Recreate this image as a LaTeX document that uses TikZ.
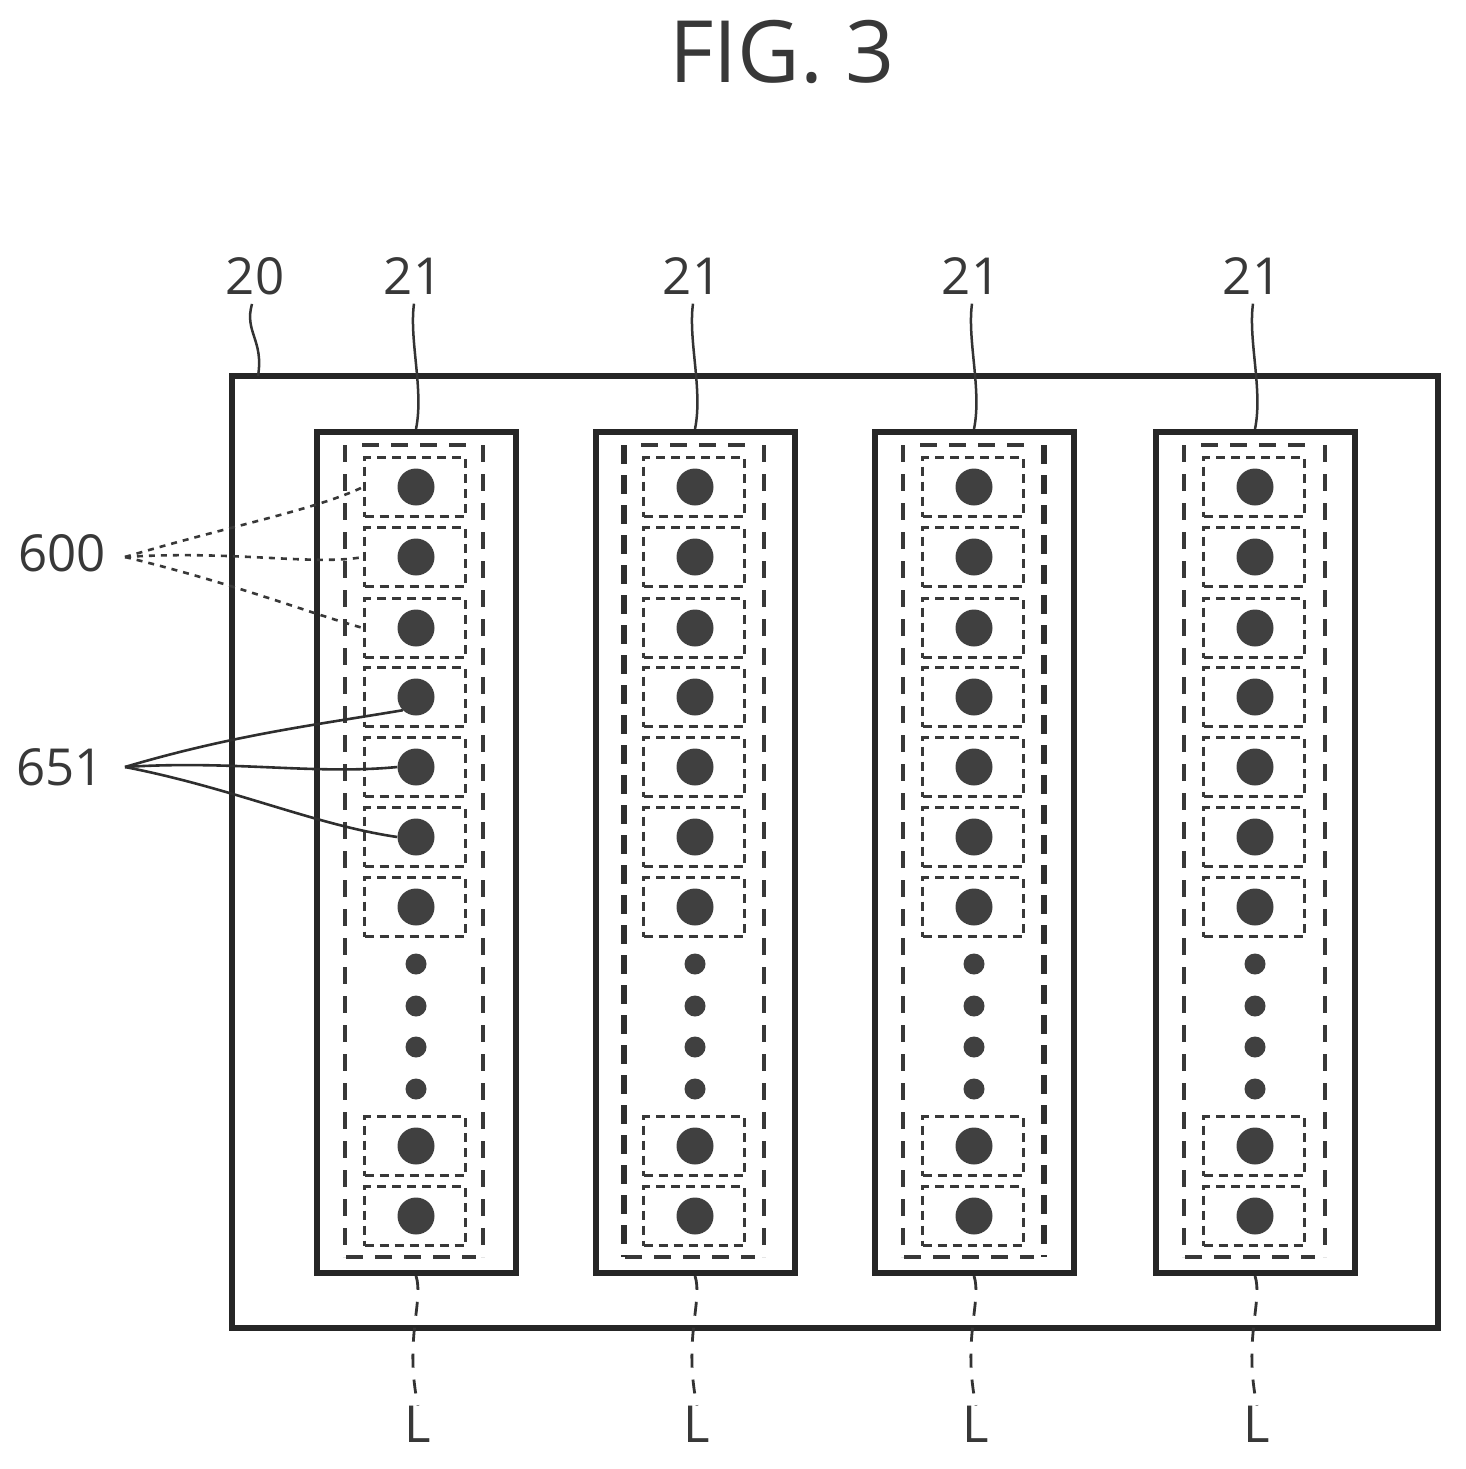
\documentclass[tikz,border=0pt]{standalone}
\usepackage{fontspec}
\setmainfont{Open Sans}
\tikzset{
  x=1pt,y=-1pt,
  frame/.style={draw=black!85,line width=6pt},
  inner/.style={draw=black!78,line width=3.4pt,dash pattern=on 17pt off 12pt},
  innerheavy/.style={draw=black!82,line width=6pt,dash pattern=on 19pt off 11pt},
  cell/.style={draw=black!78,line width=2.8pt,dash pattern=on 9pt off 6pt,minimum width=101pt,minimum height=59pt,inner sep=0pt},
  bigdot/.style={circle,fill=black!75,minimum size=37pt,inner sep=0pt},
  smalldot/.style={circle,fill=black!75,minimum size=21pt,inner sep=0pt},
  lab/.style={inner sep=0pt,text=black!78,font=\fontsize{51}{51}\selectfont},
  leaddash/.style={draw=black!78,line width=2.6pt,dash pattern=on 6pt off 6pt},
  leadsolid/.style={draw=black!82,line width=2.6pt},
  leadwave/.style={draw=black!80,line width=2.5pt},
  leadwavedash/.style={draw=black!80,line width=2.8pt,dash pattern=on 14pt off 12pt},
}
\begin{document}
\begin{tikzpicture}
\useasboundingbox (0,0) rectangle (1465,1469);
\node[inner sep=0pt,text=black!78,font=\fontsize{86}{86}\selectfont] (title) at (782,52) {FIG. 3};
\node[frame,draw,minimum width=1206pt,minimum height=952pt,inner sep=0pt] (outer) at (835,852) {};
\node[lab] (l20) at (255,276) {20};
\coordinate (e20) at (258,376);
\draw[leadwave] (l20.south) ++(-3,9) coordinate (c20) (c20) .. controls (244,332) and (264,340) .. (e20);
\foreach \n/\cx/\hl/\hr/\rr in {1/416/0/0/67,2/695/1/0/69,3/974/0/1/70,4/1255/0/0/70}{
  \node[frame,draw,minimum width=199pt,minimum height=841pt,inner sep=0pt] (strip\n) at (\cx,852.5) {};
  % inner dashed frame
  \draw[inner] (\cx-54,445) -- (\cx+55,445);
  \draw[inner] (\cx-70,1257) -- (\cx+60,1257);
  \ifnum\hl=1 \draw[innerheavy] (\cx-71,445) -- (\cx-71,1257);\else \draw[inner] (\cx-71,445) -- (\cx-71,1257);\fi
  \ifnum\hr=1 \draw[innerheavy] (\cx+\rr,445) -- (\cx+\rr,1257);\else \draw[inner] (\cx+\rr,445) -- (\cx+\rr,1257);\fi
  \foreach \i/\cy in {1/487,2/557,3/628,4/697,5/767,6/837,7/907,8/1146,9/1216}{
    \node[cell] (cell\n-\i) at (\cx-1,\cy) {};
    \node[bigdot] (dot\n-\i) at (\cx,\cy) {};
  }
  \foreach \j/\cy in {1/964,2/1006,3/1047,4/1089}{
    \node[smalldot] (sdot\n-\j) at (\cx,\cy) {};
  }
  \node[lab] (top\n) at (\cx-3,276) {21};
  \node[lab] (bot\n) at (\cx+2,1424) {L};
  \draw[leadwave] (top\n.south) ++(1,9) coordinate (a\n) (a\n) .. controls (\cx-7,340) and (\cx+8,390) .. (strip\n.north);
  \draw[leadwavedash] (strip\n.south) .. controls (\cx+8,1300) and (\cx-12,1340) .. (bot\n.north);
}
\node[lab] (l600) at (62,553) {600};
\node[lab] (l651) at (60,767) {651};
\coordinate (s600) at (125,557);
\coordinate (s651) at (125,767);
\draw[leaddash] (s600) .. controls (233,525) and (315,510) .. (cell1-1.west);
\draw[leaddash] (s600) .. controls (233,550) and (315,566) .. (cell1-2.west);
\draw[leaddash] (s600) .. controls (233,583) and (315,615) .. (cell1-3.west);
\draw[leadsolid] (s651) .. controls (233,735) and (315,725) .. (dot1-4.south west);
\draw[leadsolid] (s651) .. controls (233,760) and (315,775) .. (dot1-5.west);
\draw[leadsolid] (s651) .. controls (233,788) and (315,825) .. (dot1-6.west);
\end{tikzpicture}
\end{document}
